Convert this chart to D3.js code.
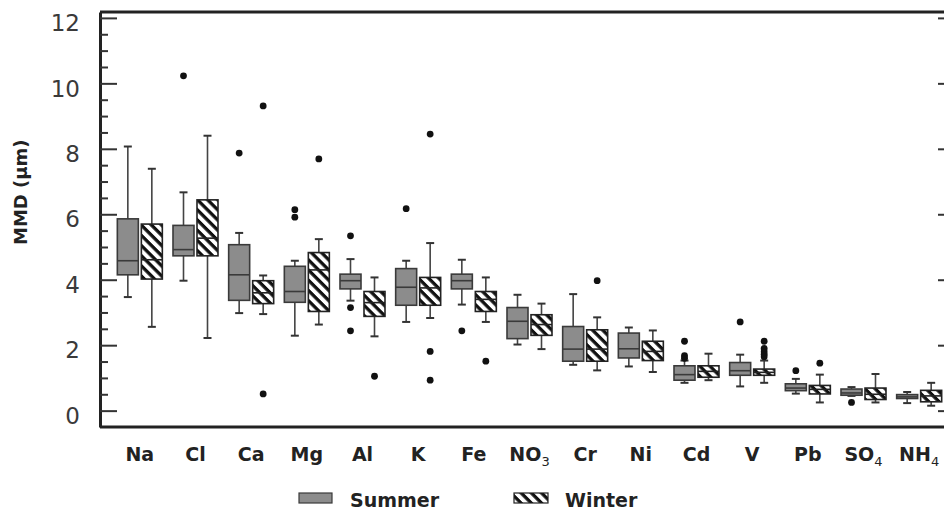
<!DOCTYPE html>
<html>
<head>
<meta charset="utf-8">
<script src="https://cdn.jsdelivr.net/npm/d3@7"></script>
<style>
  body { margin: 0; background: #fff; }
  svg { display: block; font-family: "DejaVu Sans", Verdana, sans-serif; }
</style>
</head>
<body>
<svg id="chart"></svg>
<script>
let categories = ["Na", "Cl", "Ca", "Mg", "Al", "K", "Fe", "NO3", "Cr", "Ni", "Cd", "V", "Pb", "SO4", "NH4"];

// [lower whisker, Q1, median, Q3, upper whisker]
let summerBoxes = [
  [3.47, 4.15, 4.58, 5.86, 8.07],
  [3.97, 4.73, 4.92, 5.66, 6.67],
  [2.98, 3.37, 4.15, 5.07, 5.43],
  [2.29, 3.31, 3.64, 4.41, 4.58],
  [3.36, 3.72, 3.97, 4.17, 4.63],
  [2.71, 3.22, 3.77, 4.34, 4.58],
  [3.24, 3.72, 3.97, 4.17, 4.61],
  [2.02, 2.20, 2.73, 3.15, 3.54],
  [1.40, 1.51, 1.88, 2.57, 3.56],
  [1.35, 1.61, 1.89, 2.37, 2.54],
  [0.85, 0.93, 1.10, 1.37, 1.53],
  [0.74, 1.08, 1.22, 1.47, 1.71],
  [0.52, 0.61, 0.69, 0.82, 0.97],
  [0.45, 0.47, 0.54, 0.66, 0.72],
  [0.23, 0.37, 0.42, 0.49, 0.57]
];

let winterBoxes = [
  [2.56, 4.02, 4.61, 5.70, 7.39],
  [2.22, 4.73, 5.27, 6.44, 8.40],
  [2.95, 3.27, 3.60, 3.97, 4.13],
  [2.63, 3.03, 4.30, 4.83, 5.24],
  [2.27, 2.88, 3.30, 3.64, 4.07],
  [2.83, 3.22, 3.75, 4.07, 5.12],
  [2.71, 3.03, 3.40, 3.64, 4.07],
  [1.88, 2.30, 2.63, 2.93, 3.27],
  [1.23, 1.51, 1.88, 2.47, 2.85],
  [1.18, 1.53, 1.81, 2.12, 2.45],
  [0.93, 1.02, 1.20, 1.37, 1.74],
  [0.85, 1.08, 1.17, 1.27, 1.53],
  [0.25, 0.51, 0.65, 0.77, 1.10],
  [0.25, 0.34, 0.50, 0.69, 1.12],
  [0.15, 0.27, 0.45, 0.62, 0.85]
];

let summerOutliers = [
  [], [10.23], [7.87], [6.14, 5.91], [5.34, 3.15, 2.44], [6.17], [2.44], [], [], [],
  [2.12, 1.68, 1.6], [2.71], [1.22], [0.25], []
];

let winterOutliers = [
  [], [], [9.31, 0.51], [7.69], [1.05], [8.45, 1.81, 0.93], [1.51], [], [3.97], [],
  [], [2.12, 1.9, 1.8, 1.72, 1.65], [1.45], [], []
];

let yTicks = [0, 2, 4, 6, 8, 10, 12];

let width = 944;
let height = 510;

let svg = d3.select("#chart").attr("width", width).attr("height", height);

let xScale = d3.scaleBand().domain(categories).range([112, 947]).padding(0);
let yScale = d3.scaleLinear().domain([-0.5, 12.18]).range([427, 12]);

let minorTicks = d3.range(0, 12.01, 0.5).filter(v => v % 2 !== 0);

// hatch pattern for winter
let defs = svg.append("defs");
defs.append("pattern")
  .attr("id", "hatch")
  .attr("patternUnits", "userSpaceOnUse")
  .attr("width", 7.2)
  .attr("height", 7.2)
  .attr("patternTransform", "rotate(45)")
  .call(p => {
    p.append("rect").attr("width", 7.2).attr("height", 7.2).attr("fill", "#fff");
    p.append("rect").attr("width", 7.2).attr("height", 3.3).attr("fill", "#111");
  });

let drawAxes = () => {
  // left axis: major ticks inward with labels
  let left = svg.append("g")
    .attr("transform", "translate(100,0)")
    .call(d3.axisLeft(yScale).tickValues(yTicks).tickSize(-17).tickSizeOuter(0).tickPadding(20));
  left.select(".domain").attr("stroke", "#222").attr("stroke-width", 3);
  left.selectAll(".tick line").attr("stroke", "#333").attr("stroke-width", 2);
  left.selectAll(".tick text")
    .attr("font-size", 23)
    .attr("fill", "#3a3a3a")
    .attr("font-family", "DejaVu Sans")
    .attr("dy", "0.55em");

  svg.append("g")
    .attr("transform", "translate(100,0)")
    .call(d3.axisLeft(yScale).tickValues(minorTicks).tickSize(-8).tickFormat(""))
    .call(g => g.select(".domain").remove())
    .selectAll(".tick line").attr("stroke", "#333").attr("stroke-width", 2);

  // right axis
  let right = svg.append("g")
    .attr("transform", "translate(955,0)")
    .call(d3.axisRight(yScale).tickValues(yTicks).tickSize(-17).tickSizeOuter(0).tickFormat(""));
  right.select(".domain").attr("stroke", "#222").attr("stroke-width", 3);
  right.selectAll(".tick line").attr("stroke", "#333").attr("stroke-width", 2);

  // top and bottom frame lines
  svg.append("line")
    .attr("x1", 100).attr("x2", 955)
    .attr("y1", yScale.range()[1]).attr("y2", yScale.range()[1])
    .attr("stroke", "#222").attr("stroke-width", 3);
  svg.append("line")
    .attr("x1", 100).attr("x2", 955)
    .attr("y1", yScale.range()[0]).attr("y2", yScale.range()[0])
    .attr("stroke", "#222").attr("stroke-width", 3);

  // y title
  svg.append("text")
    .attr("transform", "translate(27," + (yScale(6) - 22) + ") rotate(-90)")
    .attr("text-anchor", "middle")
    .attr("font-size", 18)
    .attr("font-weight", "bold")
    .attr("fill", "#222")
    .text("MMD (µm)");

  // category labels with subscripts
  let labels = svg.append("g")
    .selectAll("text")
    .data(categories)
    .enter()
    .append("text")
    .attr("x", d => xScale(d) + xScale.bandwidth() / 2)
    .attr("y", 461)
    .attr("text-anchor", "middle")
    .attr("font-size", 19)
    .attr("font-weight", "bold")
    .attr("fill", "#222");

  labels.each(function (d) {
    let m = d.match(/^([A-Za-z]+)(\d*)$/);
    let t = d3.select(this);
    t.append("tspan").text(m[1]);
    if (m[2]) {
      t.append("tspan")
        .attr("font-size", 13)
        .attr("font-weight", "normal")
        .attr("dy", 5)
        .text(m[2]);
    }
  });
};

let drawBoxes = (boxes, outliers, offset, fill, stroke) => {
  let boxW = 21;
  let g = svg.append("g");

  boxes.forEach((b, i) => {
    let cx = xScale(categories[i]) + xScale.bandwidth() / 2 + offset;
    let x0 = cx - boxW / 2;

    // whiskers
    g.append("line")
      .attr("x1", cx).attr("x2", cx)
      .attr("y1", yScale(b[4])).attr("y2", yScale(b[3]))
      .attr("stroke", "#444").attr("stroke-width", 1.6);
    g.append("line")
      .attr("x1", cx).attr("x2", cx)
      .attr("y1", yScale(b[1])).attr("y2", yScale(b[0]))
      .attr("stroke", "#444").attr("stroke-width", 1.6);
    [b[0], b[4]].forEach(v => {
      g.append("line")
        .attr("x1", cx - 4).attr("x2", cx + 4)
        .attr("y1", yScale(v)).attr("y2", yScale(v))
        .attr("stroke", "#333").attr("stroke-width", 2);
    });

    // box
    g.append("rect")
      .attr("x", x0)
      .attr("y", yScale(b[3]))
      .attr("width", boxW)
      .attr("height", yScale(b[1]) - yScale(b[3]))
      .attr("fill", fill)
      .attr("stroke", stroke)
      .attr("stroke-width", 1.6);

    // median
    g.append("line")
      .attr("x1", x0).attr("x2", x0 + boxW)
      .attr("y1", yScale(b[2])).attr("y2", yScale(b[2]))
      .attr("stroke", stroke).attr("stroke-width", 1.6);

    // outliers
    g.selectAll(null)
      .data(outliers[i])
      .enter()
      .append("circle")
      .attr("cx", cx)
      .attr("cy", v => yScale(v))
      .attr("r", 3.4)
      .attr("fill", "#111");
  });
};

let drawLegend = () => {
  let legend = svg.append("g");
  legend.append("rect")
    .attr("x", 299).attr("y", 493).attr("width", 33).attr("height", 10)
    .attr("fill", "#8c8c8c").attr("stroke", "#3a3a3a").attr("stroke-width", 1.2);
  legend.append("text")
    .attr("x", 350).attr("y", 507)
    .attr("font-size", 19).attr("font-weight", "bold").attr("fill", "#222")
    .text("Summer");
  legend.append("rect")
    .attr("x", 514).attr("y", 493).attr("width", 34).attr("height", 10)
    .attr("fill", "url(#hatch)").attr("stroke", "#222").attr("stroke-width", 1.2);
  legend.append("text")
    .attr("x", 565).attr("y", 507)
    .attr("font-size", 19).attr("font-weight", "bold").attr("fill", "#222")
    .text("Winter");
};

drawAxes();
drawBoxes(summerBoxes, summerOutliers, -12, "#8c8c8c", "#3a3a3a");
drawBoxes(winterBoxes, winterOutliers, 12, "url(#hatch)", "#222");
drawLegend();
</script>
</body>
</html>
